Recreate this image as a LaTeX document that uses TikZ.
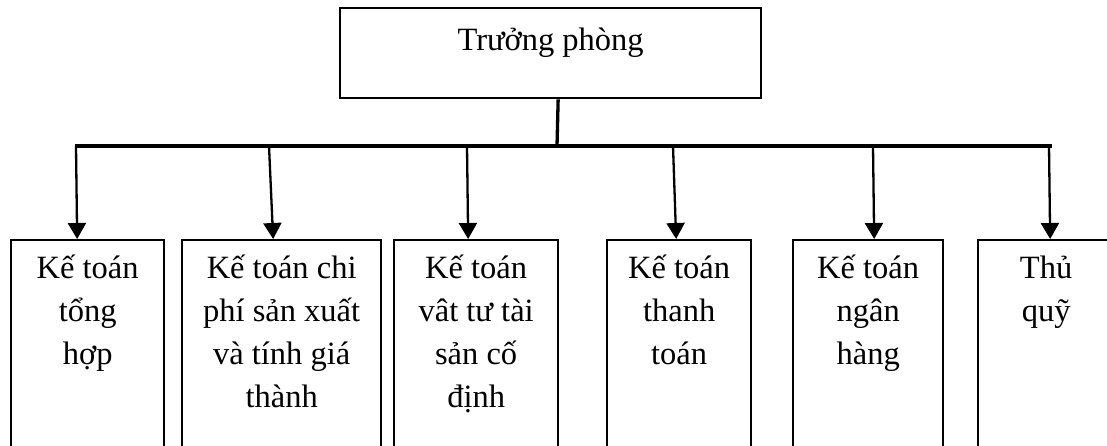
\documentclass[tikz,border=0pt]{standalone}
\usepackage{fontspec}
\setmainfont{Liberation Serif}
\usetikzlibrary{arrows.meta}
\begin{document}
\begin{tikzpicture}[x=1pt,y=-1pt,
  frame/.style={draw, line width=2.3pt, anchor=north west, inner sep=0pt},
  unit/.style={frame, minimum height=250pt},
  txt/.style={anchor=north, inner sep=0pt, align=center,
    font=\fontsize{32.5}{43}\selectfont},
  wire/.style={line width=3.3pt},
  arr/.style={line width=2.3pt, -{Triangle[length=16pt,width=18pt]}}]
  \useasboundingbox (0,0) rectangle (1107,445);
  \clip (0,0) rectangle (1107,445);

  % head of department
  \node[frame, minimum width=421pt, minimum height=90pt] (boss) at (339,7) {};
  \node[txt] (bosst) at ([yshift=-13pt]boss.north) {\rule{0pt}{30pt}Trưởng phòng};

  % sections
  \node[unit, minimum width=153pt] (b1) at (10,239) {};
  \node[unit, minimum width=199pt] (b2) at (181,239) {};
  \node[unit, minimum width=164pt] (b3) at (393,239) {};
  \node[unit, minimum width=144pt] (b4) at (606,239) {};
  \node[unit, minimum width=150pt] (b5) at (792,239) {};
  \node[unit, minimum width=136pt] (b6) at (977,239) {};

  \node[txt] (t1) at ([yshift=-9pt]b1.north) {\rule{0pt}{30pt}Kế toán\\tổng\\hợp};
  \node[txt] (t2) at ([yshift=-9pt]b2.north) {\rule{0pt}{30pt}Kế toán chi\\phí sản xuất\\và tính giá\\thành};
  \node[txt] (t3) at ([yshift=-9pt]b3.north) {\rule{0pt}{30pt}Kế toán\\vât tư tài\\sản cố\\định};
  \node[txt] (t4) at ([yshift=-9pt]b4.north) {\rule{0pt}{30pt}Kế toán\\thanh\\toán};
  \node[txt] (t5) at ([yshift=-9pt]b5.north) {\rule{0pt}{30pt}Kế toán\\ngân\\hàng};
  \node[txt] (t6) at ([yshift=-9pt]b6.north) {\rule{0pt}{30pt}Thủ\\quỹ};

  % distribution bus
  \coordinate (hub) at (557,146);
  \coordinate (s1) at (76,146);
  \coordinate (s2) at (269,146);
  \coordinate (s3) at (467,146);
  \coordinate (s4) at (673,146);
  \coordinate (s5) at (873,146);
  \coordinate (s6) at (1049,146);
  \coordinate (busend) at (1052,146);

  \draw[wire] ([xshift=7.5pt]boss.south) -- (hub);
  \draw[wire] ([xshift=-1pt]s1) -- (busend);

  \draw[arr] (s1) -- ([xshift=-10.5pt]b1.north);
  \draw[arr] (s2) -- ([xshift=-8.5pt]b2.north);
  \draw[arr] (s3) -- ([xshift=-8pt]b3.north);
  \draw[arr] (s4) -- ([xshift=-3pt]b4.north);
  \draw[arr] (s5) -- ([xshift=6pt]b5.north);
  \draw[arr] (s6) -- ([xshift=4pt]b6.north);
\end{tikzpicture}
\end{document}
